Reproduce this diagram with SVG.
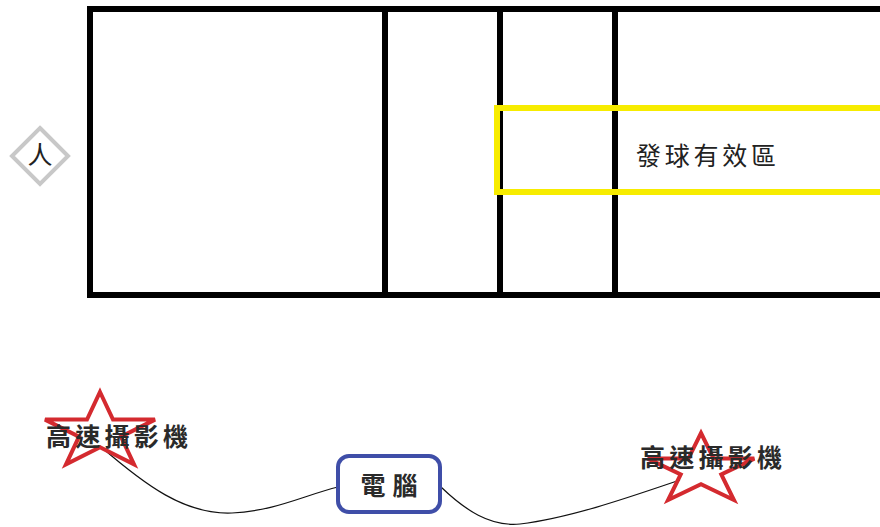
<svg xmlns="http://www.w3.org/2000/svg" width="880" height="527" viewBox="0 0 880 527">
<style>
.court{fill:none;stroke:#000;stroke-width:6;stroke-linecap:square}
.zone{fill:none;stroke:#f7ec00;stroke-width:6}
.star{fill:none;stroke:#d42a2f;stroke-width:4;stroke-linejoin:miter}
.lbl{font-family:"Noto Sans CJK TC","Noto Sans CJK SC",sans-serif;fill:#222;font-size:25px}
.cam{font-weight:bold;fill:#2a2a2a}
.wire{fill:none;stroke:#111;stroke-width:1.2}
</style>
<rect width="880" height="527" fill="#fff"/>
<g id="court">
<path class="court" d="M883,9 H90 V295 H883"/>
<line class="court" x1="385" y1="9" x2="385" y2="295"/>
<line class="court" x1="500" y1="9" x2="500" y2="295"/>
<line class="court" x1="615" y1="9" x2="615" y2="295"/>
</g>
<g id="serve-zone">
<path class="zone" d="M884,108 H497 V192 H884"/>
<text class="lbl" x="636" y="165" textLength="140" lengthAdjust="spacing">發球有效區</text>
</g>
<g id="person">
<polygon points="40,128 68,156 40,184 12,156" fill="#fff" stroke="#c8c8c8" stroke-width="4"/>
<text class="lbl" x="40" y="164" text-anchor="middle" font-size="22">人</text>
</g>
<g id="connectors">
<path class="wire" d="M100,446 C145,485 185,515 232,513 C275,511 305,495 338,487"/>
<path class="wire" d="M441,487 C465,510 490,527 520,524 C570,518 630,497 680,480"/>
</g>
<g id="camera-left">
<polygon class="star" points="100,392 113,419.6 155,419.6 121,436.7 134,464.4 100,447.3 66,464.4 79,436.7 45,419.6 87,419.6"/>
<text class="lbl cam" x="46" y="446" textLength="142" lengthAdjust="spacing">高速攝影機</text>
</g>
<g id="computer">
<rect x="338" y="456" width="102" height="56" rx="11" fill="#fff" stroke="#3f4ea8" stroke-width="4"/>
<text class="lbl cam" x="389" y="495" text-anchor="middle" textLength="57" lengthAdjust="spacing">電腦</text>
</g>
<g id="camera-right">
<polygon class="star" points="701,433 713.6,458.6 754.3,458.6 721.3,474.4 733.9,500 701,484.1 668.1,500 680.7,474.4 647.7,458.6 688.4,458.6"/>
<text class="lbl cam" x="640" y="467" textLength="142" lengthAdjust="spacing">高速攝影機</text>
</g>
</svg>
